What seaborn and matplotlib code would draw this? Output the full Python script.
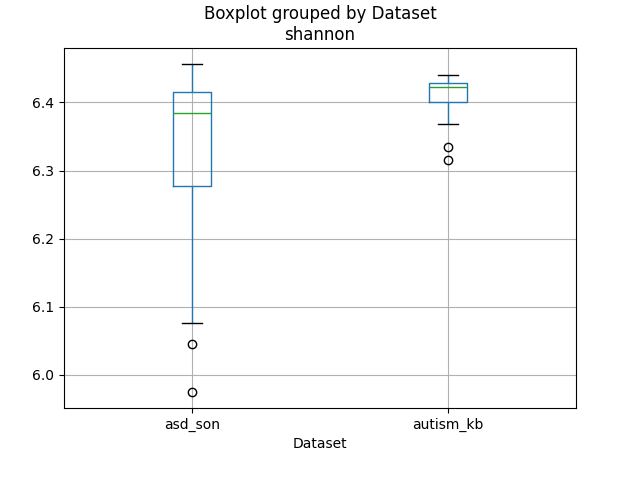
import pandas as pd
import matplotlib
matplotlib.use("Agg")
import matplotlib.pyplot as plt
import seaborn as sns

# shannon values per dataset
asd_son = [5.975, 6.045, 6.076, 6.277, 6.31, 6.35, 6.385,
           6.395, 6.405, 6.415, 6.425, 6.44, 6.456]
autism_kb = [6.316, 6.334, 6.368, 6.400, 6.408, 6.415, 6.422,
             6.423, 6.425, 6.428, 6.432, 6.436, 6.441]
datasets = ["asd_son", "autism_kb"]

df = pd.DataFrame({
    "Dataset": ["asd_son"] * len(asd_son) + ["autism_kb"] * len(autism_kb),
    "shannon": asd_son + autism_kb,
})

fig, ax = plt.subplots(figsize=(6.4, 4.8), dpi=100)
fig.subplots_adjust(left=0.1, right=0.9, bottom=0.15, top=0.9)
sns.boxplot(data=df, x="Dataset", y="shannon", order=datasets, ax=ax,
            width=0.15, fill=False, color="#1f77b4", linewidth=1,
            medianprops=dict(color="#2ca02c", linewidth=1),
            whiskerprops=dict(color="#1f77b4", linewidth=1),
            capprops=dict(color="black", linewidth=1),
            flierprops=dict(marker="o", markerfacecolor="none",
                            markeredgecolor="black", markersize=6))
ax.grid(True, color="#b0b0b0", linewidth=0.8)
ax.set_axisbelow(True)
ax.set_ylabel("")
ax.set_xlabel("Dataset")
ax.set_title("Boxplot grouped by Dataset\nshannon")
plt.savefig("out.png")
